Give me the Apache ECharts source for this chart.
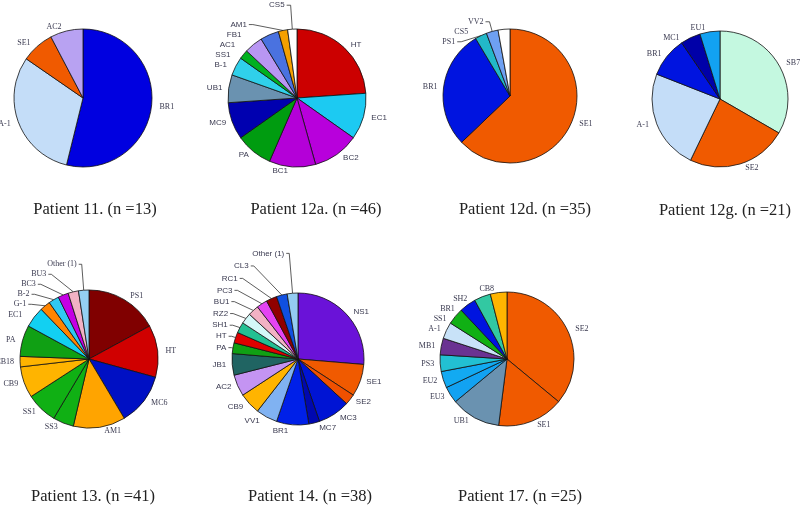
<!DOCTYPE html>
<html><head><meta charset="utf-8">
<script src="https://cdn.jsdelivr.net/npm/echarts@6/dist/echarts.min.js"></script>
<style>html,body{margin:0;padding:0;background:#fff}#c{width:800px;height:506px}</style>
</head><body><div id="c"></div>
<script>
// ---- Data ----
const titles = ['Patient 11. (n =13)','Patient 12a. (n =46)','Patient 12d. (n =35)','Patient 12g. (n =21)','Patient 13. (n =41)','Patient 14. (n =38)','Patient 17. (n =25)'];

const p11Labels = ['BR1','A-1','SE1','AC2'];
const p11Values = [7,4,1,1];

const p12aLabels = ['HT','EC1','BC2','BC1','PA','MC9','UB1','B-1','SS1','AC1','FB1','AM1','CS5'];
const p12aValues = [11,5,5,5,4,4,3,2,1,2,2,1,1];

const p12dLabels = ['SE1','BR1','PS1','VV2','CS5'];
const p12dValues = [22,10,1,1,1];

const p12gLabels = ['SB7','SE2','A-1','BR1','MC1','EU1'];
const p12gValues = [7,5,5,2,1,1];

const p13Labels = ['PS1','HT','MC6','AM1','SS3','SS1','CB9','CB18','PA','EC1','G-1','B-2','BC3','BU3','Other (1)'];
const p13Values = [7,5,5,5,2,3,3,1,3,2,1,1,1,1,1];

const p14Labels = ['NS1','SE1','SE2','MC3','MC7','BR1','VV1','CB9','AC2','JB1','PA','HT','SH1','RZ2','BU1','PC3','RC1','CL3','Other (1)'];
const p14Values = [10,3,1,3,1,3,2,2,2,2,1,1,1,1,1,1,1,1,1];

const p17Labels = ['SE2','SE1','UB1','EU3','EU2','PS3','MB1','A-1','SS1','BR1','SH2','CB8'];
const p17Values = [9,4,3,1,1,1,1,1,1,1,1,1];

// ---- Styles ----
const p11Colors = ['#0000e0','#c4ddf8','#f05a00','#b8a2f2'];
const p12aColors = ['#cc0000','#1ccaf2','#b800dc','#b400d8','#009c10','#0000b0','#6a92b0','#30d0ea','#00b020','#b896f2','#4a72e0','#f5a000','#ffffff'];
const p12dColors = ['#f05a00','#0014e0','#22b8c8','#6ea0f2','#ffffff'];
const p12gColors = ['#c4f8e0','#f05a00','#c4ddf8','#0014e0','#0000a8','#12a2f2'];
const p13Colors = ['#800000','#d00000','#0010c4','#ffa400','#10b014','#10b014','#ffb400','#ffb400','#10a014','#12d0f2','#ff8400','#30c8f2','#c400e4','#f2b2c4','#94d0f2'];
const p14Colors = ['#6a12d8','#f05a00','#f05000','#0014d4','#0008b0','#0020e8','#80b2f2','#ffb400','#c494f2','#206462','#10a014','#e00000','#22c092','#d4f8f8','#f2b2c4','#e444f2','#900000','#1050e0','#94ccf2'];
const p17Colors = ['#f05a00','#f05a00','#6a92b0','#12a2f2','#12aaf2','#22c0d2','#6a3292','#c8e2f8','#10b014','#0014e0','#32c8a2','#ffb400'];

const serif = '"Liberation Serif","DejaVu Serif",serif';
const sans = '"Liberation Sans",Arial,sans-serif';

// lines: map label -> [length, length2]
function build(labels, values, colors, center, radius, font, lines) {
  return {
    type: 'pie', center: center, radius: radius, startAngle: 90, clockwise: true,
    avoidLabelOverlap: true, animation: false,
    itemStyle: { borderColor: '#111', borderWidth: 0.8 },
    label: { show: true, position: 'outside', fontFamily: font, fontSize: 8, color: '#3a3a50', distanceToLabelLine: 2, width: 40, overflow: 'none' },
    labelLine: { show: false, length: 4, length2: 2, lineStyle: { color: '#333', width: 0.8 } },
    emphasis: { disabled: true },
    data: labels.map((n, i) => {
      const d = { name: n, value: values[i], itemStyle: { color: colors[i] } };
      if (lines && lines[n]) d.labelLine = { show: true, length: lines[n][0], length2: lines[n][1] };
      return d;
    })
  };
}

const titlePos = [[90,196],[311,196],[520,196],[720,197],[88,483],[305,483],[515,483]];

const option = {
  backgroundColor: '#fff',
  title: titles.map((t, i) => ({
    text: t, left: titlePos[i][0], top: titlePos[i][1], textAlign: 'center',
    textStyle: { fontFamily: serif, fontSize: 16.5, fontWeight: 'normal', color: '#222' }
  })),
  series: [
    build(p11Labels, p11Values, p11Colors, [83, 98], 69, serif, null),
    build(p12aLabels, p12aValues, p12aColors, [297, 98], 69, sans, {'AM1':[6,4],'CS5':[24,4]}),
    build(p12dLabels, p12dValues, p12dColors, [510, 96], 67, serif, {'PS1':[4,4],'VV2':[10,4]}),
    build(p12gLabels, p12gValues, p12gColors, [720, 99], 68, serif, null),
    build(p13Labels, p13Values, p13Colors, [89, 359], 69, serif, {'G-1':[4,3],'B-2':[8,3],'BC3':[12,3],'BU3':[18,3],'Other (1)':[26,3]}),
    build(p14Labels, p14Values, p14Colors, [298, 359], 66, sans, {'PA':[3,3],'HT':[4,3],'SH1':[5,3],'RZ2':[8,3],'BU1':[12,3],'PC3':[16,3],'RC1':[22,3],'CL3':[30,3],'Other (1)':[40,3]}),
    build(p17Labels, p17Values, p17Colors, [507, 359], 67, serif, null)
  ]
};
echarts.init(document.getElementById('c'), null, { renderer: 'canvas' }).setOption(option);
</script></body></html>
